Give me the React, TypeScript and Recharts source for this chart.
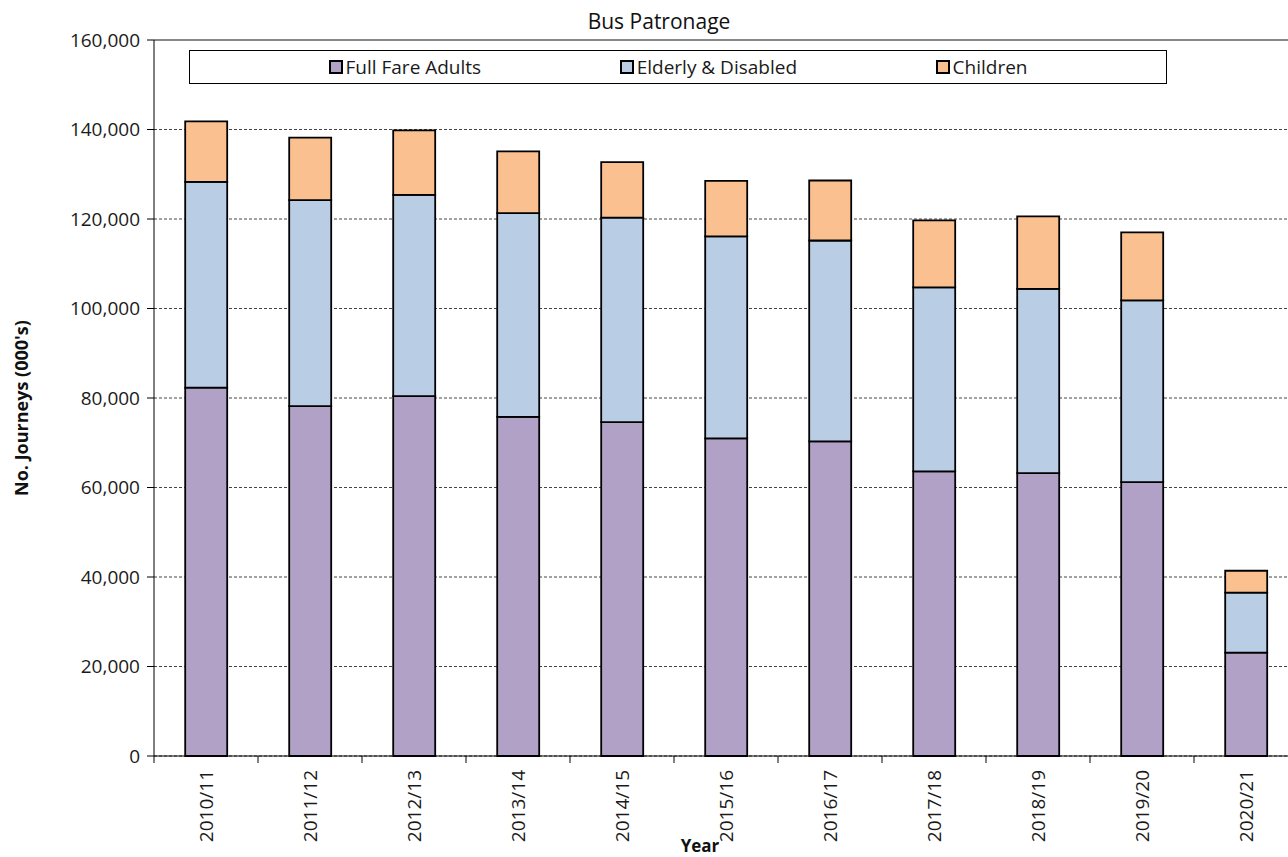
import React from 'react';
import { BarChart, Bar, XAxis, YAxis, CartesianGrid, Legend, ReferenceLine } from 'recharts';

const years = ['2010/11', '2011/12', '2012/13', '2013/14', '2014/15', '2015/16', '2016/17', '2017/18', '2018/19', '2019/20', '2020/21'];
const fullFareAdults = [82300, 78200, 80400, 75800, 74600, 71000, 70300, 63600, 63200, 61200, 23100];
const elderlyDisabled = [46000, 46000, 45000, 45500, 45700, 45100, 44900, 41100, 41200, 40600, 13400];
const children = [13500, 14000, 14400, 13800, 12400, 12400, 13400, 15000, 16200, 15200, 4900];
const yTicks = [0, 20000, 40000, 60000, 80000, 100000, 120000, 140000, 160000];
const legendOrder = ['Full Fare Adults', 'Elderly & Disabled', 'Children'];

const FONT = '"Open Sans", "Noto Sans", sans-serif';
const PLOT_LEFT = 154;
const PLOT_RIGHT = 1298;
const BAND = (PLOT_RIGHT - PLOT_LEFT) / years.length;

const data = years.map((year, i) => ({
  year,
  full: fullFareAdults[i],
  elderly: elderlyDisabled[i],
  children: children[i],
}));

const fmt = (v: number) => v.toLocaleString('en-GB');

const XTick = (props: any) => {
  const { x, y, payload } = props;
  return (
    <g>
      <line x1={x - BAND / 2} x2={x - BAND / 2} y1={y} y2={y + 7} stroke="#000" />
      <text
        x={0}
        y={0}
        dy="0.36em"
        textAnchor="end"
        fontSize={19}
        fill="#1a1a1a"
        transform={`translate(${x},${y + 14}) rotate(-90)`}
      >
        {payload.value}
      </text>
    </g>
  );
};

const renderLegend = (props: any) => {
  const payload = [...(props.payload || [])].sort(
    (a: any, b: any) => legendOrder.indexOf(a.value) - legendOrder.indexOf(b.value)
  );
  return (
    <div
      style={{
        boxSizing: 'border-box',
        width: '100%',
        height: 34,
        border: '1.5px solid #000',
        background: '#fff',
        display: 'flex',
        justifyContent: 'space-evenly',
        alignItems: 'center',
        fontFamily: FONT,
        fontSize: 19,
        color: '#1a1a1a',
      }}
    >
      {payload.map((entry: any) => (
        <span key={entry.value} style={{ display: 'flex', alignItems: 'center' }}>
          <span
            style={{
              display: 'inline-block',
              width: 10,
              height: 10,
              border: '2px solid #000',
              background: entry.color,
              marginRight: 3,
            }}
          />
          {entry.value}
        </span>
      ))}
    </div>
  );
};

export default function App() {
  return (
    <div
      style={{
        position: 'absolute',
        left: 0,
        top: 0,
        width: 1288,
        height: 857,
        overflow: 'hidden',
        background: '#fff',
        fontFamily: FONT,
      }}
    >
      <div
        style={{
          position: 'absolute',
          left: 509,
          top: 7,
          width: 300,
          textAlign: 'center',
          fontSize: 21,
          color: '#111',
          zIndex: 2,
        }}
      >
        Bus Patronage
      </div>
      <BarChart
        width={1300}
        height={857}
        data={data}
        margin={{ top: 40, right: 2, left: 0, bottom: 0 }}
        barCategoryGap="30%"
        style={{ fontFamily: FONT }}
      >
        <CartesianGrid vertical={false} stroke="#444" strokeDasharray="3 2" />
        <ReferenceLine y={160000} stroke="#888" strokeWidth={2} />
        <XAxis
          dataKey="year"
          height={101}
          interval={0}
          axisLine={{ stroke: '#000' }}
          tickLine={false}
          tickSize={0}
          tickMargin={0}
          tick={<XTick />}
          label={{
            content: () => (
              <text x={700} y={852} textAnchor="middle" fontSize={17} fontWeight="bold" fill="#111">
                Year
              </text>
            ),
          }}
        />
        <YAxis
          width={154}
          domain={[0, 160000]}
          ticks={yTicks}
          tickFormatter={fmt}
          axisLine={{ stroke: '#000' }}
          tickLine={{ stroke: '#000' }}
          tickSize={7}
          tickMargin={7}
          tick={{ fontSize: 19, fill: '#1a1a1a' }}
          label={{
            content: (p: any) => {
              const vb = p.viewBox || { y: 40, height: 716 };
              const cy = vb.y + vb.height / 2;
              return (
                <text
                  x={0}
                  y={0}
                  textAnchor="middle"
                  fontSize={18}
                  fontWeight="bold"
                  fill="#111"
                  transform={`translate(28,${cy + 10}) rotate(-90)`}
                >
                  No. Journeys (000's)
                </text>
              );
            },
          }}
        />
        <Legend
          layout="horizontal"
          verticalAlign="middle"
          align="center"
          wrapperStyle={{ position: 'absolute', top: 50, left: 189, width: 978, height: 34 }}
          content={renderLegend}
        />
        <Bar dataKey="full" name="Full Fare Adults" stackId="a" fill="#B2A1C7" stroke="#000" strokeWidth={1.8} isAnimationActive={false} />
        <Bar dataKey="elderly" name="Elderly & Disabled" stackId="a" fill="#B9CDE5" stroke="#000" strokeWidth={1.8} isAnimationActive={false} />
        <Bar dataKey="children" name="Children" stackId="a" fill="#FAC090" stroke="#000" strokeWidth={1.8} isAnimationActive={false} />
      </BarChart>
    </div>
  );
}
